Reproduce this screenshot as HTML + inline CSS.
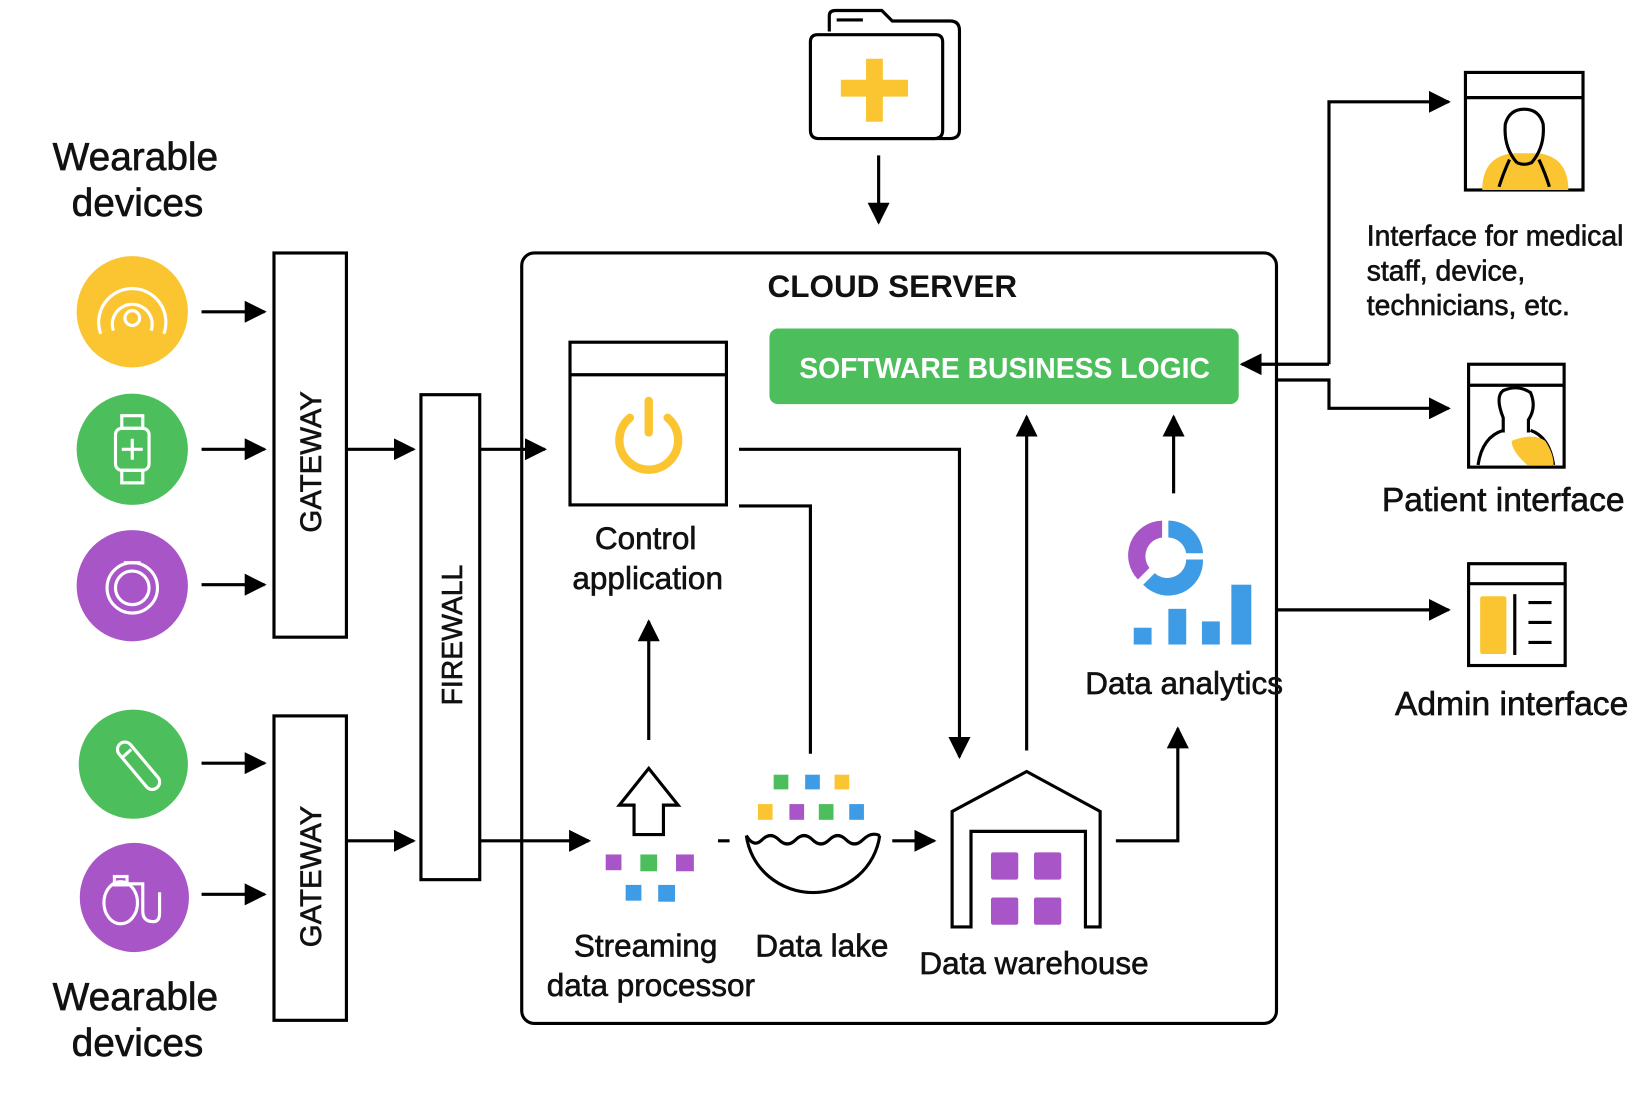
<!DOCTYPE html>
<html><head><meta charset="utf-8"><style>
html,body{margin:0;padding:0;background:#fff}
svg{display:block}
text{font-family:"Liberation Sans","DejaVu Sans",sans-serif;fill:#111;stroke:#111;stroke-width:0.6}
</style></head><body>
<svg width="1646" height="1098" viewBox="0 0 1568 1046" preserveAspectRatio="none" xmlns="http://www.w3.org/2000/svg">
<defs>
<marker id="a" viewBox="0 0 10 10" refX="9" refY="5" markerWidth="7" markerHeight="7" orient="auto-start-reverse" markerUnits="strokeWidth"><path d="M0,0 L10,5 L0,10 z" fill="#000"/></marker>
</defs>
<rect width="1568" height="1046" fill="#fff"/>
<g stroke="#000" stroke-width="3" fill="none">
<path d="M790,30 L790,15 Q790,10 796,10 L840,10 L850,20 L905,20 Q914,20 914,29 L914,124 Q914,132 905,132 L800,132"/>
<path d="M772,40 Q772,33 779,33 L891,33 Q898,33 898,40 L898,124 Q898,132 890,132 L780,132 Q772,132 772,124 Z" fill="#fff"/>
<line x1="797" y1="19" x2="822" y2="19" stroke-width="3"/>
<line x1="837" y1="148" x2="837" y2="212" marker-end="url(#a)"/>
<rect x="497" y="241" width="719" height="734" rx="12"/>
<line x1="192" y1="297" x2="252" y2="297" marker-end="url(#a)"/>
<line x1="192" y1="428" x2="252" y2="428" marker-end="url(#a)"/>
<line x1="192" y1="557" x2="252" y2="557" marker-end="url(#a)"/>
<line x1="192" y1="727" x2="252" y2="727" marker-end="url(#a)"/>
<line x1="192" y1="852" x2="252" y2="852" marker-end="url(#a)"/>
<rect x="261" y="241" width="69" height="366"/>
<rect x="261" y="682" width="69" height="290"/>
<rect x="401" y="376" width="56" height="462"/>
<line x1="330" y1="428" x2="394" y2="428" marker-end="url(#a)"/>
<line x1="330" y1="801" x2="394" y2="801" marker-end="url(#a)"/>
<line x1="457" y1="428" x2="519" y2="428" marker-end="url(#a)"/>
<line x1="457" y1="801" x2="561" y2="801" marker-end="url(#a)"/>
<rect x="543" y="326" width="149" height="155"/>
<line x1="543" y1="357" x2="692" y2="357"/>
<polyline points="704,428 914,428 914,721" marker-end="url(#a)"/>
<polyline points="704,482 772,482 772,718"/>
<line x1="618" y1="705" x2="618" y2="592" marker-end="url(#a)"/>
<path d="M604,795 L604,767 L590,767 L618,732 L646,767 L632,767 L632,795 Z"/>
<line x1="684" y1="801" x2="695" y2="801"/>
<path d="M711,796 Q718,808 726,800 Q734,792 742,800 Q750,808 758,800 Q766,792 774,800 Q782,808 790,800 Q798,792 806,800 Q814,808 822,800 Q830,792 838,796"/>
<path d="M711,796 A64,62 0 0 0 838,796"/>
<line x1="850" y1="801" x2="890" y2="801" marker-end="url(#a)"/>
<path d="M907,883 L907,773 L978,735 L1048,773 L1048,883 L1034,883 L1034,792 L925,792 L925,883 Z"/>
<line x1="978" y1="715" x2="978" y2="397" marker-end="url(#a)"/>
<line x1="1118" y1="470" x2="1118" y2="397" marker-end="url(#a)"/>
<polyline points="1063,801 1122,801 1122,694" marker-end="url(#a)"/>
<polyline points="1266,347 1183,347" marker-end="url(#a)"/>
<polyline points="1266,347 1266,97 1380,97" marker-end="url(#a)"/>
<polyline points="1216,362 1266,362 1266,389 1380,389" marker-end="url(#a)"/>
<line x1="1216" y1="581" x2="1380" y2="581" marker-end="url(#a)"/>
<rect x="1396" y="69" width="112" height="112"/><line x1="1396" y1="93" x2="1508" y2="93"/>
<rect x="1399" y="347" width="91" height="98"/><line x1="1399" y1="367" x2="1490" y2="367"/>
<rect x="1399" y="537" width="92" height="97"/><line x1="1399" y1="556" x2="1491" y2="556"/>
</g>
<path d="M825,56 h16 v20 h24 v16 h-24 v24 h-16 v-24 h-24 v-16 h24 z" fill="#fbc531"/>
<circle cx="126" cy="297" r="53" fill="#fbc531"/>
<circle cx="126" cy="428" r="53" fill="#4cbf5c"/>
<circle cx="126" cy="558" r="53" fill="#a855c8"/>
<circle cx="127" cy="728" r="52" fill="#4cbf5c"/>
<circle cx="128" cy="855" r="52" fill="#a855c8"/>
<g stroke="#fff" stroke-width="3" fill="none">
<path d="M96,318 A32,32 0 1 1 156,318"/><path d="M108,315 A19,19 0 1 1 144,315"/><circle cx="126" cy="303" r="7"/>
<rect x="110" y="408" width="32" height="40" rx="6"/><rect x="116" y="396" width="20" height="12"/><rect x="116" y="448" width="20" height="12"/><path d="M126,418 v20 M116,428 h20"/>
<circle cx="126" cy="560" r="24"/><circle cx="126" cy="560" r="16"/><path d="M118,536 h16"/>
<path d="M114,719 L140,750 A7,7 0 0 0 150,740 L124,709 A7,7 0 0 0 114,719 Z"/><path d="M116,722 L125,714"/>
<ellipse cx="115" cy="860" rx="16" ry="20"/><rect x="109" y="835" width="12" height="8"/><path d="M121,842 h15 v26 q0,10 10,10 q6,0 6,-8 v-20"/>
</g>
<path d="M600,398 A28,28 0 1 0 636,398" stroke="#fbc531" stroke-width="8" fill="none" stroke-linecap="round"/>
<line x1="618" y1="382" x2="618" y2="412" stroke="#fbc531" stroke-width="8" stroke-linecap="round"/>
<rect x="577" y="814" width="15" height="15" fill="#a855c8"/><rect x="610" y="814" width="16" height="16" fill="#4cbf5c"/><rect x="644" y="814" width="17" height="16" fill="#a855c8"/>
<rect x="596" y="843" width="15" height="15" fill="#3e9be6"/><rect x="627" y="843" width="16" height="16" fill="#3e9be6"/>
<rect x="737" y="738" width="14" height="14" fill="#4cbf5c"/><rect x="767" y="738" width="14" height="14" fill="#3e9be6"/><rect x="795" y="738" width="14" height="14" fill="#fbc531"/>
<rect x="722" y="766" width="14" height="15" fill="#fbc531"/><rect x="752" y="766" width="14" height="15" fill="#a855c8"/><rect x="780" y="766" width="14" height="15" fill="#4cbf5c"/><rect x="809" y="766" width="14" height="15" fill="#3e9be6"/>
<rect x="944" y="812" width="26" height="26" rx="2" fill="#a855c8"/><rect x="985" y="812" width="26" height="26" rx="2" fill="#a855c8"/>
<rect x="944" y="855" width="26" height="26" rx="2" fill="#a855c8"/><rect x="985" y="855" width="26" height="26" rx="2" fill="#a855c8"/>
<path d="M1107,496 A33,33 0 0 0 1084,552 L1095,541 A18,18 0 0 1 1107,512 Z" fill="#a855c8"/>
<path d="M1113,496 A33,33 0 0 1 1146,527 L1130,527 A18,18 0 0 0 1113,512 Z" fill="#3e9be6"/>
<path d="M1146,533 A33,33 0 0 1 1089,557 L1100,546 A18,18 0 0 0 1130,533 Z" fill="#3e9be6"/>
<rect x="1080" y="598" width="17" height="16" fill="#3e9be6"/><rect x="1113" y="580" width="17" height="34" fill="#3e9be6"/><rect x="1145" y="592" width="17" height="22" fill="#3e9be6"/><rect x="1173" y="557" width="19" height="57" fill="#3e9be6"/>
<rect x="733" y="313" width="447" height="72" rx="8" fill="#4cbf5c"/>
<text x="957" y="360" text-anchor="middle" font-size="27" font-weight="bold" style="fill:#fff;stroke:none">SOFTWARE BUSINESS LOGIC</text>
<path d="M1412,181 Q1412,150 1440,146 L1466,146 Q1494,150 1494,181 Z" fill="#fbc531"/>
<g stroke="#000" stroke-width="3" fill="none">
<path d="M1445,155 Q1432,140 1434,118 Q1438,104 1452,104 Q1466,104 1470,118 Q1472,140 1459,155 Q1452,158 1445,155"/>
<path d="M1438,152 Q1432,165 1428,178 M1466,152 Q1472,165 1476,178"/>
<path d="M1408,443 Q1412,416 1432,410 M1458,410 Q1476,416 1480,443"/>
<path d="M1432,412 L1432,398 Q1424,378 1432,372 Q1446,366 1458,374 Q1464,388 1456,400 L1456,412"/>
</g>
<path d="M1440,420 Q1460,412 1472,420 Q1480,432 1480,443 L1455,443 Q1440,430 1440,420 Z" fill="#fbc531"/>
<rect x="1410" y="568" width="25" height="55" rx="2" fill="#fbc531"/>
<g stroke="#000" stroke-width="3"><line x1="1443" y1="566" x2="1443" y2="624"/><line x1="1456" y1="574" x2="1478" y2="574"/><line x1="1456" y1="593" x2="1478" y2="593"/><line x1="1456" y1="612" x2="1478" y2="612"/></g>
<g font-size="37" text-anchor="middle">
<text x="129" y="162">Wearable</text><text x="131" y="206">devices</text>
<text x="129" y="962">Wearable</text><text x="131" y="1006">devices</text>
</g>
<text transform="translate(306,440) rotate(-90)" text-anchor="middle" font-size="28">GATEWAY</text>
<text transform="translate(306,835) rotate(-90)" text-anchor="middle" font-size="28">GATEWAY</text>
<text transform="translate(440,605) rotate(-90)" text-anchor="middle" font-size="27">FIREWALL</text>
<text x="850" y="283" text-anchor="middle" font-size="30" font-weight="bold" style="stroke:none">CLOUD SERVER</text>
<g font-size="30" text-anchor="middle">
<text x="615" y="523">Control</text><text x="617" y="561">application</text>
<text x="615" y="911">Streaming</text><text x="620" y="949">data processor</text>
<text x="783" y="911">Data lake</text>
<text x="985" y="928">Data warehouse</text>
<text x="1128" y="661">Data analytics</text>
<text x="1432" y="487" font-size="32">Patient interface</text>
<text x="1440" y="681" font-size="32">Admin interface</text>
</g>
<g font-size="27">
<text x="1302" y="234">Interface for medical</text><text x="1302" y="267">staff, device,</text><text x="1302" y="300">technicians, etc.</text>
</g>
</svg>
</body></html>
